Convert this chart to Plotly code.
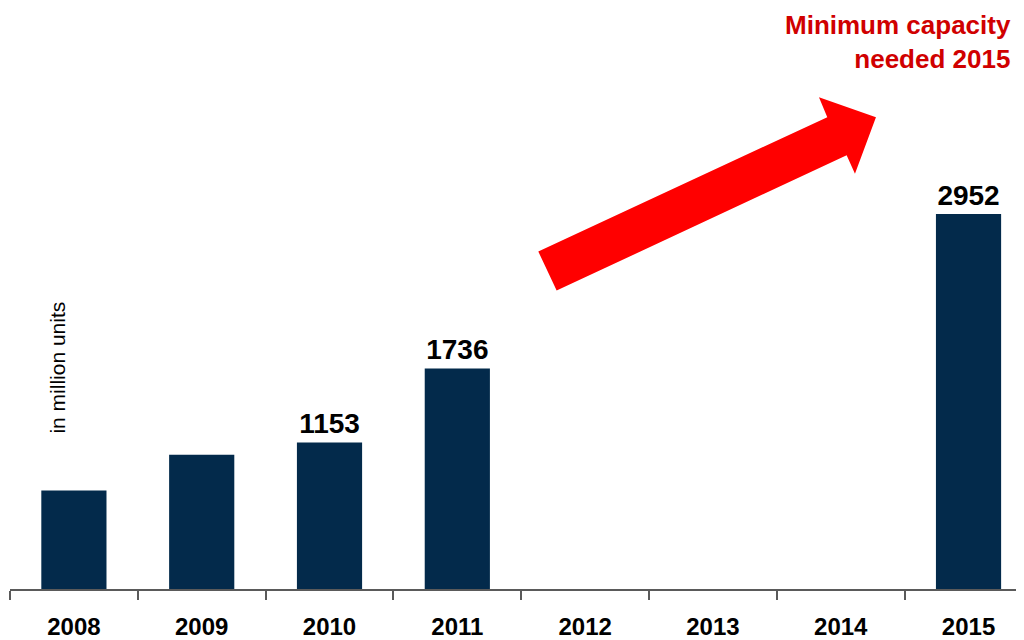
import plotly.graph_objects as go

years = ["2008", "2009", "2010", "2011", "2012", "2013", "2014", "2015"]
capacity = [775, 1057, 1153, 1736, None, None, None, 2952]
show_label = [False, False, True, True, False, False, False, True]
unit_note = "in million units"
callout = "Minimum capacity<br>needed 2015"

bar_text = [str(v) if (s and v is not None) else "" for v, s in zip(capacity, show_label)]

FONT = "Liberation Sans, Arial, sans-serif"
NAVY = "#032A4B"
GREY = "#5A5A5A"

fig = go.Figure()
fig.add_trace(go.Bar(
    x=years, y=capacity, width=0.51,
    marker=dict(color=NAVY, line=dict(width=0)),
    text=bar_text, textposition="outside", cliponaxis=False,
    textfont=dict(family=FONT, size=28, color="#000000"),
    texttemplate="<b>%{text}</b>",
    hoverinfo="skip",
))

# arrow decoration (paper coordinates)
arrow = [(0.5210, 0.5850), (0.5391, 0.5172), (0.8251, 0.7517), (0.8333, 0.7195),
         (0.8540, 0.8178), (0.7978, 0.8522), (0.8060, 0.8178)]
path = "M " + " L ".join(f"{x} {y}" for x, y in arrow) + " Z"
fig.add_shape(type="path", path=path, xref="paper", yref="paper",
              fillcolor="#FF0000", line=dict(width=0), layer="above")

fig.add_annotation(text="<b>" + callout + "</b>", xref="paper", yref="paper",
                   x=0.989, y=1.0065, xanchor="right", yanchor="top", align="right",
                   showarrow=False, font=dict(family=FONT, size=26, color="#D00000"))

fig.add_annotation(text=unit_note, xref="paper", yref="paper",
                   x=0.0465, y=0.384, xanchor="center", yanchor="middle",
                   textangle=-90, showarrow=False,
                   font=dict(family=FONT, size=21, color="#000000"))

fig.update_layout(
    width=1016, height=632,
    margin=dict(l=2, r=0, t=4, b=48),
    plot_bgcolor="white", paper_bgcolor="white",
    showlegend=False,
    xaxis=dict(type="category", range=[-0.5, 7.434], tickson="boundaries",
               ticks="outside", ticklen=9, tickwidth=1.5, tickcolor=GREY,
               showline=True, linecolor=GREY, linewidth=1.5,
               showgrid=False, zeroline=False, ticklabelstandoff=15,
               tickfont=dict(family=FONT, size=24, color="#000000"),
               tickvals=years, ticktext=["<b>" + y + "</b>" for y in years]),
    yaxis=dict(visible=False, range=[0, 4541], showgrid=False, zeroline=False),
)

fig.write_html("out.html")
